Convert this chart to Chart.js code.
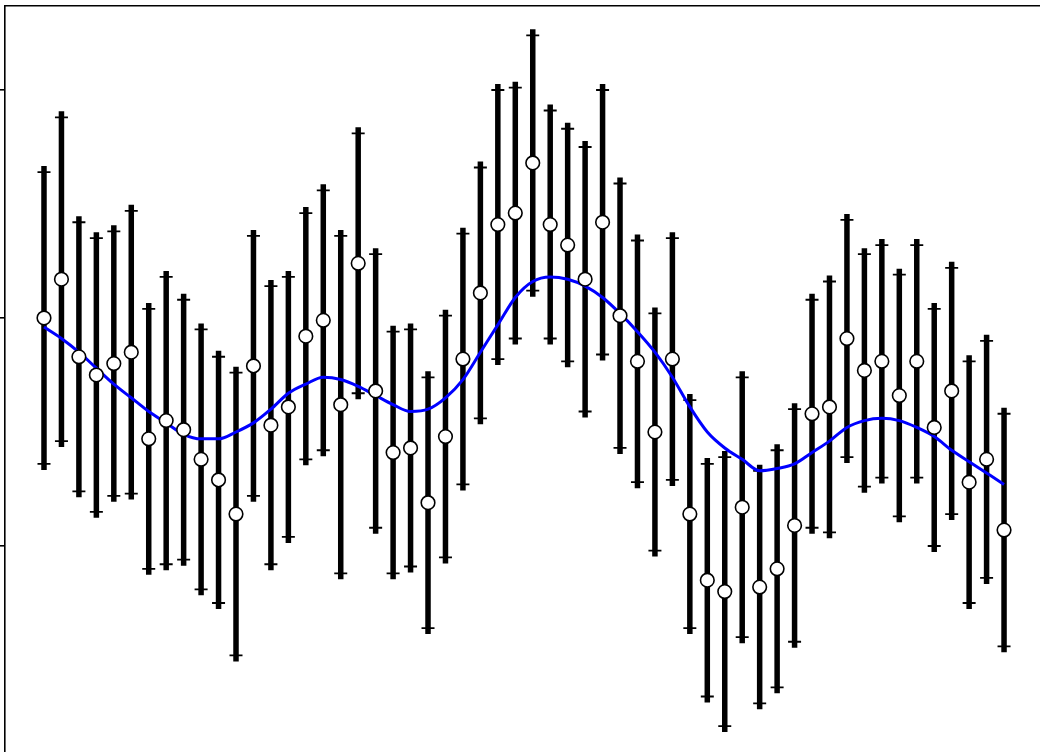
<!DOCTYPE html>
<html>
<head>
<meta charset="utf-8">
<script src="https://cdn.jsdelivr.net/npm/chart.js@4/dist/chart.umd.min.js"></script>
<style>
  html, body { margin: 0; padding: 0; background: #fff; }
  canvas { display: block; }
</style>
</head>
<body>
<canvas id="errChart" width="1040" height="752"></canvas>
<script>
// measured values (one per sample)
const measured = [
  0.00, 0.17, -0.17, -0.25, -0.20, -0.15, -0.53, -0.45, -0.49, -0.62,
  -0.71, -0.86, -0.21, -0.47, -0.39, -0.08, -0.01, -0.38, 0.24, -0.32,
  -0.59, -0.57, -0.81, -0.52, -0.18, 0.11, 0.41, 0.46, 0.68, 0.41,
  0.32, 0.17, 0.42, 0.01, -0.19, -0.50, -0.18, -0.86, -1.15, -1.20,
  -0.83, -1.18, -1.10, -0.91, -0.42, -0.39, -0.09, -0.23, -0.19, -0.34,
  -0.19, -0.48, -0.32, -0.72, -0.62, -0.93
];
// symmetric error (half length of each bar)
const errors = [
  0.64, 0.71, 0.59, 0.60, 0.58, 0.62, 0.57, 0.63, 0.57, 0.57,
  0.54, 0.62, 0.57, 0.61, 0.57, 0.54, 0.57, 0.74, 0.57, 0.60,
  0.53, 0.52, 0.55, 0.53, 0.55, 0.55, 0.59, 0.55, 0.56, 0.50,
  0.51, 0.58, 0.58, 0.58, 0.53, 0.52, 0.53, 0.50, 0.51, 0.59,
  0.57, 0.51, 0.52, 0.51, 0.50, 0.55, 0.52, 0.51, 0.51, 0.53,
  0.51, 0.52, 0.54, 0.53, 0.52, 0.51
];
// smoothed curve
const smoothed = [
  -0.04, -0.09, -0.15, -0.22, -0.29, -0.35, -0.41, -0.46, -0.51, -0.53,
  -0.53, -0.50, -0.46, -0.40, -0.33, -0.29, -0.26, -0.27, -0.30, -0.34,
  -0.38, -0.41, -0.40, -0.35, -0.27, -0.15, -0.03, 0.09, 0.16, 0.18,
  0.17, 0.14, 0.09, 0.02, -0.06, -0.15, -0.26, -0.39, -0.50, -0.57,
  -0.62, -0.67, -0.66, -0.64, -0.59, -0.54, -0.48, -0.45, -0.44, -0.45,
  -0.48, -0.52, -0.58, -0.63, -0.68, -0.73
];
const yTicks = [1, 0, -1];

const pointData = measured.map((v, i) => ({ x: i, y: v }));
const lineData = smoothed.map((v, i) => ({ x: i, y: v }));

// error bars drawn under the datasets, using the chart scales
const errorBarPlugin = {
    id: 'errorBars',
    beforeDatasetsDraw(chart) {
        const ctx = chart.ctx;
        const xs = chart.scales.x;
        const ys = chart.scales.y;
        ctx.save();
        ctx.strokeStyle = '#000';
        measured.forEach((v, i) => {
            const px = xs.getPixelForValue(i);
            const top = ys.getPixelForValue(v + errors[i]);
            const bot = ys.getPixelForValue(v - errors[i]);
            ctx.lineWidth = 5.5;
            ctx.beginPath();
            ctx.moveTo(px, top - 6);
            ctx.lineTo(px, bot + 6);
            ctx.stroke();
            // caps
            ctx.lineWidth = 1.8;
            ctx.beginPath();
            ctx.moveTo(px - 6.5, top);
            ctx.lineTo(px + 6.5, top);
            ctx.moveTo(px - 6.5, bot);
            ctx.lineTo(px + 6.5, bot);
            ctx.stroke();
        });
        ctx.restore();
    }
};

const ctx = document.getElementById('errChart').getContext('2d');
const errChart = new Chart(ctx, {
    type: 'scatter',
    data: {
        datasets: [{
            label: 'data',
            data: pointData,
            pointRadius: 6.8,
            pointHoverRadius: 6.8,
            pointBackgroundColor: '#fff',
            pointBorderColor: '#000',
            pointBorderWidth: 1.6,
            order: 0
        }, {
            type: 'line',
            label: 'smoothed',
            data: lineData,
            borderColor: '#0000ff',
            borderWidth: 3,
            pointRadius: 0,
            cubicInterpolationMode: 'monotone',
            fill: false,
            order: 1
        }]
    },
    options: {
        responsive: false,
        animation: false,
        layout: { autoPadding: false, padding: { top: 6, left: 0, right: 0, bottom: 0 } },
        plugins: {
            legend: { display: false },
            tooltip: { enabled: false }
        },
        scales: {
            x: {
                type: 'linear',
                position: 'top',
                min: -2.234,
                max: 57.06,
                ticks: { display: false },
                grid: { display: false, drawTicks: false },
                border: { display: true, color: '#000', width: 1.6 }
            },
            y: {
                type: 'linear',
                min: -1.9035,
                max: 1.3684,
                afterBuildTicks: axis => {
                    axis.ticks = yTicks.map(v => ({ value: v }));
                },
                ticks: { display: false },
                grid: { drawOnChartArea: false, tickLength: 5, color: '#000', lineWidth: 1.6 },
                border: { display: true, color: '#000', width: 1.6 }
            }
        }
    },
    plugins: [errorBarPlugin]
});
</script>
</body>
</html>
